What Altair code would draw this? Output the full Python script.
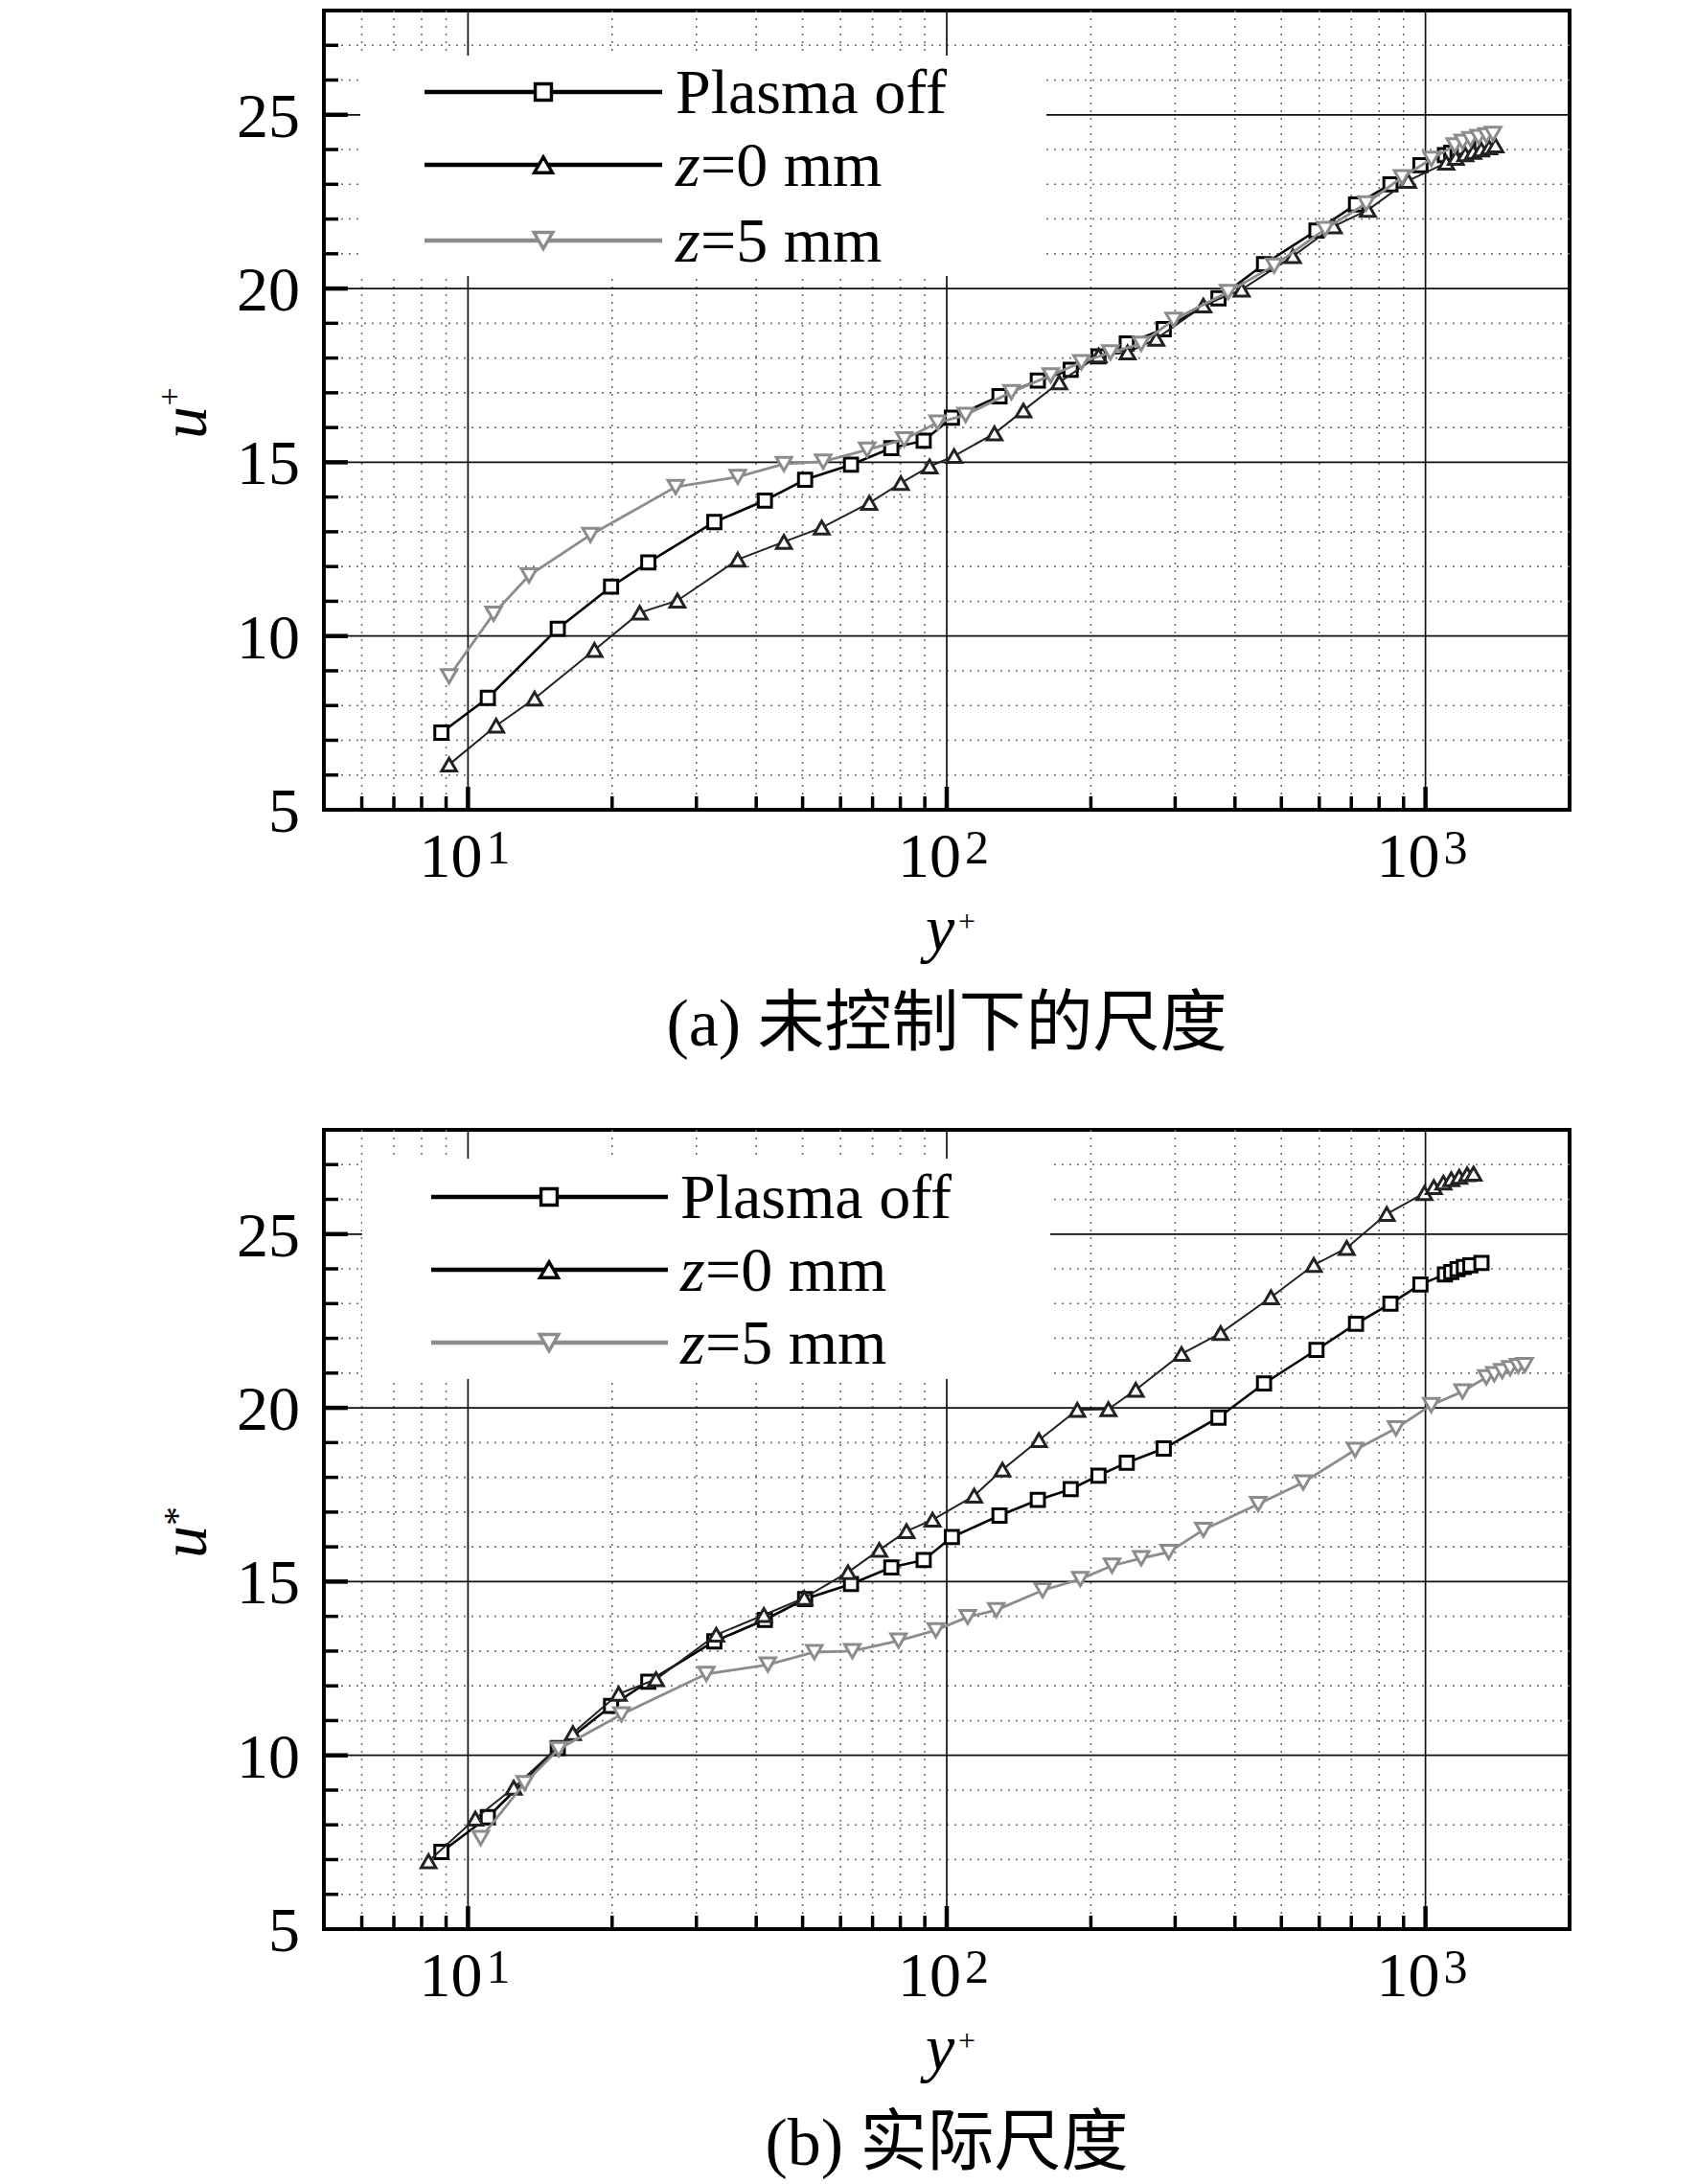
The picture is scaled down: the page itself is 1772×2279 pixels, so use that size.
import altair as alt
import pandas as pd

SERIF = "Liberation Serif"
CJK = "Liberation Serif, 'Noto Sans CJK SC'"

# ---------------- data ----------------
# Plasma off (same in both panels)
yplus_off = [8.8, 11.0, 15.4, 19.9, 23.8, 32.7, 41.7, 50.6, 63.1, 76.6,
             89.5, 102.5, 128.9, 155, 181.5, 207.5, 237.7, 284, 369.5, 460,
             592, 716, 845, 976, 1098, 1132, 1167, 1203, 1241, 1309]
u_off = [7.22, 8.22, 10.21, 11.42, 12.12, 13.28, 13.90, 14.50, 14.93, 15.41,
         15.62, 16.28, 16.90, 17.35, 17.66, 18.05, 18.42, 18.83, 19.72, 20.70,
         21.67, 22.42, 23.00, 23.55, 23.84, 23.91, 23.99, 24.05, 24.10, 24.17]

# (a) z=0 mm, uncontrolled scaling
yplus_a0 = [9.13, 11.45, 13.77, 18.37, 22.84, 27.38, 36.6, 45.7, 54.8, 68.9,
            80.2, 92.1, 103.6, 125.8, 144.6, 171.8, 207.6, 238.6, 274, 343.5,
            413, 528.5, 643.5, 758, 920, 1105, 1157, 1211, 1258, 1307, 1358, 1400]
u_a0 = [6.30, 7.42, 8.20, 9.60, 10.67, 11.02, 12.20, 12.71, 13.12, 13.83,
        14.40, 14.88, 15.18, 15.83, 16.49, 17.30, 18.07, 18.16, 18.55, 19.51,
        19.97, 20.93, 21.79, 22.26, 23.10, 23.62, 23.76, 23.86, 23.93, 24.00, 24.06, 24.12]

# (a) z=5 mm, uncontrolled scaling
yplus_a5 = [9.13, 11.31, 13.41, 18.02, 27.15, 36.6, 45.7, 55.2, 68.2, 81.5,
            95.7, 109.5, 136.5, 164.9, 191.2, 219.7, 254.7, 297.8, 387, 483,
            617, 752, 893, 1029, 1151, 1196, 1242, 1291, 1341, 1384]
u_a5 = [8.84, 10.64, 11.74, 12.91, 14.29, 14.58, 14.95, 15.02, 15.36, 15.66,
        16.14, 16.36, 17.02, 17.50, 17.88, 18.16, 18.41, 19.10, 19.90, 20.66,
        21.71, 22.45, 23.20, 23.73, 24.12, 24.22, 24.30, 24.36, 24.41, 24.45]

# (b) z=0 mm, actual scaling
yplus_b0 = [8.27, 10.36, 12.46, 16.56, 20.64, 24.7, 33.0, 41.5, 50.4, 62.2,
            72.3, 82.4, 93.4, 114.1, 130.7, 155.8, 187.4, 217.6, 248.2, 309.3,
            373.3, 475.6, 584.3, 684.6, 830, 995, 1041, 1090, 1132, 1176, 1222, 1260]
u_b0 = [6.95, 8.18, 9.07, 10.64, 11.77, 12.19, 13.47, 14.04, 14.53, 15.27,
        15.91, 16.45, 16.78, 17.47, 18.22, 19.07, 19.94, 19.96, 20.52, 21.55,
        22.15, 23.18, 24.11, 24.60, 25.58, 26.18, 26.35, 26.48, 26.58, 26.65, 26.72, 26.74]

# (b) z=5 mm, actual scaling
yplus_b5 = [10.63, 13.13, 15.46, 20.92, 31.46, 42.3, 52.9, 63.5, 79.3, 94.9,
            110.6, 126.9, 158.6, 190.1, 221.5, 254.8, 290.8, 343.6, 447.4, 555.3,
            712.8, 867.6, 1028, 1195, 1340, 1392, 1446, 1503, 1561, 1611]
u_b5 = [7.62, 9.20, 10.18, 11.18, 12.34, 12.61, 12.97, 13.00, 13.30, 13.60,
        13.98, 14.18, 14.75, 15.07, 15.46, 15.67, 15.85, 16.49, 17.23, 17.85,
        18.79, 19.41, 20.08, 20.47, 20.88, 20.97, 21.06, 21.14, 21.20, 21.23]

series_names = ["Plasma off", "z=0 mm", "z=5 mm"]
x_major = [10, 100, 1000]
x_label_base = ["10", "10", "10"]
x_label_exp = ["1", "2", "3"]
x_minor = [6, 7, 8, 9, 20, 30, 40, 50, 60, 70, 80, 90,
           200, 300, 400, 500, 600, 700, 800, 900]
y_label_vals = [5, 10, 15, 20, 25]
y_label_text = ["5", "10", "15", "20", "25"]
y_major = [10, 15, 20, 25]
y_minor = [6, 7, 8, 9, 11, 12, 13, 14, 16, 17, 18, 19, 21, 22, 23, 24, 26, 27]
captions = ["(a) 未控制下的尺度", "(b) 实际尺度"]
y_title_sup = ["+", "*"]

# ---------------- styling ----------------
W, H = 1300, 834
xs = alt.Scale(type="log", domain=[5, 2000], nice=False)
ys = alt.Scale(domain=[5, 28], nice=False, zero=False)

C_OFF, C_Z0, C_Z5 = "#000000", "#222222", "#8c8c8c"
ONE = pd.DataFrame({"k": [0]})


def X(f="v"):
    return alt.X(f"{f}:Q", scale=xs, axis=None)


def Y(f="v"):
    return alt.Y(f"{f}:Q", scale=ys, axis=None)


def panel(series, lg, sup, caption):
    L = []
    # minor dotted grid
    L.append(alt.Chart(pd.DataFrame({"v": x_minor})).mark_rule(
        color="#707070", strokeWidth=1.6, strokeDash=[2, 6]).encode(x=X()))
    L.append(alt.Chart(pd.DataFrame({"v": y_minor})).mark_rule(
        color="#707070", strokeWidth=1.6, strokeDash=[2, 6]).encode(y=Y()))
    # major solid grid
    L.append(alt.Chart(pd.DataFrame({"v": x_major})).mark_rule(
        color="#111111", strokeWidth=1.7).encode(x=X()))
    L.append(alt.Chart(pd.DataFrame({"v": y_major})).mark_rule(
        color="#111111", strokeWidth=1.7).encode(y=Y()))
    # legend background box
    bx0, by0, bx1, by1 = lg["box"]
    L.append(alt.Chart(ONE).mark_rect(color="white").encode(
        x=alt.value(bx0), x2=alt.value(bx1), y=alt.value(by0), y2=alt.value(by1)))
    # inward ticks
    L.append(alt.Chart(pd.DataFrame({"v": y_minor})).mark_rule(
        color="black", strokeWidth=3.5).encode(y=Y(), x=alt.value(0), x2=alt.value(15)))
    L.append(alt.Chart(pd.DataFrame({"v": y_major})).mark_rule(
        color="black", strokeWidth=4.5).encode(y=Y(), x=alt.value(0), x2=alt.value(25)))
    L.append(alt.Chart(pd.DataFrame({"v": x_minor})).mark_rule(
        color="black", strokeWidth=3.5).encode(x=X(), y=alt.value(H), y2=alt.value(H - 14)))
    L.append(alt.Chart(pd.DataFrame({"v": x_major})).mark_rule(
        color="black", strokeWidth=4.5).encode(x=X(), y=alt.value(H), y2=alt.value(H - 24)))
    # data series
    for xv, uv, col, lw, shape, size in series:
        df = pd.DataFrame({"x": xv, "u": uv})
        base = alt.Chart(df)
        L.append(base.mark_line(color=col, strokeWidth=lw).encode(x=X("x"), y=Y("u")))
        L.append(base.mark_point(shape=shape, size=size, filled=True, fill="white",
                                 stroke=col, strokeWidth=3.0, opacity=1).encode(
            x=X("x"), y=Y("u")))
    # legend content
    for i, (xv, uv, col, lw, shape, size) in enumerate(series):
        ry = lg["rows"][i]
        lcol = "#000000" if i < 2 else C_Z5
        L.append(alt.Chart(ONE).mark_rule(color=lcol, strokeWidth=4.5).encode(
            x=alt.value(lg["lx0"]), x2=alt.value(lg["lx1"]), y=alt.value(ry)))
        L.append(alt.Chart(ONE).mark_point(shape=shape, size=size * 1.5, filled=True,
                                           fill="white", stroke=lcol, strokeWidth=3.4,
                                           opacity=1).encode(
            x=alt.value(lg["mx"]), y=alt.value(ry)))
        name = series_names[i]
        if name.startswith("z"):
            L.append(alt.Chart(ONE).mark_text(text="z", font=SERIF, fontStyle="italic",
                                              fontSize=66, align="left", baseline="alphabetic").encode(
                x=alt.value(lg["tx"]), y=alt.value(ry + 22)))
            L.append(alt.Chart(ONE).mark_text(text=name[1:], font=SERIF, fontSize=66,
                                              align="left", baseline="alphabetic").encode(
                x=alt.value(lg["tx"] + 26), y=alt.value(ry + 22)))
        else:
            L.append(alt.Chart(ONE).mark_text(text=name, font=SERIF, fontSize=66,
                                              align="left", baseline="alphabetic").encode(
                x=alt.value(lg["tx"]), y=alt.value(ry + 22)))
    # y tick labels
    L.append(alt.Chart(pd.DataFrame({"v": y_label_vals, "t": y_label_text})).mark_text(
        font=SERIF, fontSize=66, align="right", baseline="middle", dy=3).encode(
        y=Y(), x=alt.value(-25), text="t:N"))
    # x tick labels 10^n
    xl = pd.DataFrame({"v": x_major, "b": x_label_base, "e": x_label_exp})
    L.append(alt.Chart(xl).mark_text(font=SERIF, fontSize=66, align="right",
                                     baseline="alphabetic", dx=15).encode(
        x=X(), y=alt.value(H + 70), text="b:N"))
    L.append(alt.Chart(xl).mark_text(font=SERIF, fontSize=50, align="left",
                                     baseline="alphabetic", dx=19).encode(
        x=X(), y=alt.value(H + 56), text="e:N"))
    # axis titles
    L.append(alt.Chart(ONE).mark_text(text="y", font=SERIF, fontStyle="italic", fontSize=68,
                                      align="center", baseline="alphabetic").encode(
        x=alt.value(643), y=alt.value(H + 147)))
    L.append(alt.Chart(ONE).mark_text(text="+", font=SERIF, fontSize=32,
                                      align="center", baseline="alphabetic").encode(
        x=alt.value(671), y=alt.value(H + 127)))
    L.append(alt.Chart(ONE).mark_text(text="u", font=SERIF, fontStyle="italic", fontSize=68,
                                      angle=270, align="center", baseline="alphabetic").encode(
        x=alt.value(-123), y=alt.value(430)))
    sx = -160 if sup == "+" else -152
    L.append(alt.Chart(ONE).mark_text(text=sup, font=SERIF, fontSize=34 if sup == "+" else 40,
                                      angle=270, align="center", baseline="middle").encode(
        x=alt.value(sx), y=alt.value(403)))
    # caption
    L.append(alt.Chart(ONE).mark_text(text=caption, font=CJK, fontSize=70,
                                      align="center", baseline="alphabetic").encode(
        x=alt.value(W / 2), y=alt.value(H + 246)))
    return alt.layer(*L).properties(width=W, height=H)


top = panel(
    [(yplus_off, u_off, C_OFF, 2.6, "square", 190),
     (yplus_a0, u_a0, C_Z0, 2.0, "triangle-up", 240),
     (yplus_a5, u_a5, C_Z5, 2.8, "triangle-down", 260)],
    {"box": (38, 47, 754, 277), "rows": [85, 161, 240], "lx0": 105, "lx1": 353,
     "mx": 229, "tx": 367},
    y_title_sup[0], captions[0])

bottom = panel(
    [(yplus_off, u_off, C_OFF, 2.6, "square", 190),
     (yplus_b0, u_b0, C_Z0, 2.0, "triangle-up", 240),
     (yplus_b5, u_b5, C_Z5, 2.8, "triangle-down", 260)],
    {"box": (40, 30, 758, 260), "rows": [70, 146, 222], "lx0": 112, "lx1": 359,
     "mx": 235, "tx": 372},
    y_title_sup[1], captions[1])

chart = alt.vconcat(top, bottom, spacing=334, bounds="flush").properties(
    padding={"left": 151, "top": 0, "right": 8, "bottom": 0},
    background="white",
).configure_view(stroke="black", strokeWidth=4)

chart.save("out.html", embed_options={"renderer": "svg", "actions": False})
